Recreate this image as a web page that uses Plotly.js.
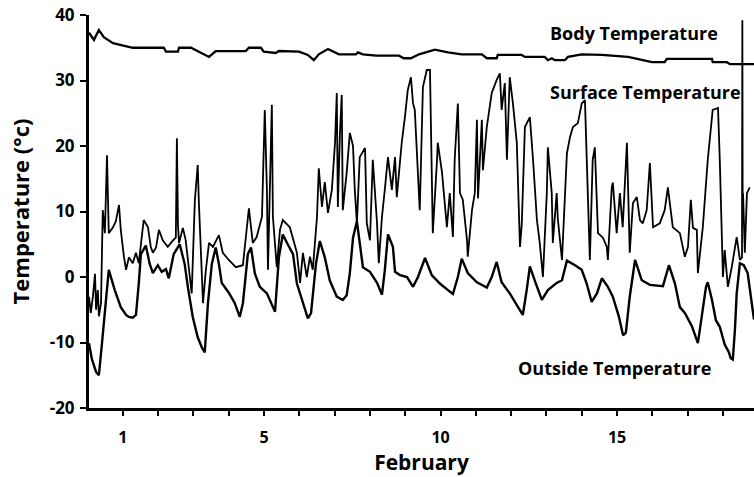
<!DOCTYPE html>
<html>
<head>
<meta charset="utf-8">
<script src="https://cdn.plot.ly/plotly-3.0.1.min.js"></script>
<style>html,body{margin:0;padding:0;background:#fff;}#chart{width:754px;height:477px;}</style>
</head>
<body>
<div id="chart"></div>
<script>
// Day of February (fractional)
const bodyDays = [0.04,0.18,0.32,0.46,0.72,1.17,1.28,2.16,2.22,2.56,2.59,2.93,3.15,3.44,3.63,4.48,4.57,4.91,4.99,5.33,5.42,5.99,6.24,6.41,6.55,6.81,7.12,7.60,7.66,7.80,8.17,8.82,8.96,9.16,9.39,9.56,9.84,10.21,10.60,11.17,11.31,11.59,11.62,12.30,12.39,12.95,13.04,13.15,13.24,13.52,13.61,14.00,14.57,15.31,15.70,15.99,16.35,16.41,17.69,17.71,18.11,18.20,18.88];
const bodyTemp = [37.3,36.2,37.7,36.6,35.7,35.1,35.0,35.0,34.4,34.4,35.0,35.0,34.4,33.6,34.5,34.5,35.0,35.0,34.4,34.2,34.5,34.4,33.9,33.1,34.0,34.8,34.0,34.0,34.3,34.0,33.8,33.8,33.4,33.4,34.0,34.3,34.7,34.3,34.0,34.0,33.4,33.4,33.9,33.9,33.6,33.6,33.1,33.4,33.1,33.1,33.6,34.0,33.9,33.6,33.1,32.8,32.8,33.3,33.3,32.8,32.8,32.5,32.5];

const surfDays = [0.04,0.09,0.15,0.21,0.24,0.29,0.32,0.38,0.43,0.49,0.55,0.60,0.72,0.80,0.89,0.94,1.03,1.09,1.17,1.28,1.37,1.45,1.59,1.71,1.79,1.85,1.94,2.02,2.13,2.27,2.42,2.50,2.53,2.56,2.59,2.70,2.78,2.87,2.95,3.04,3.12,3.15,3.24,3.27,3.35,3.44,3.55,3.72,3.83,4.00,4.20,4.40,4.57,4.68,4.79,4.94,5.02,5.08,5.11,5.22,5.25,5.36,5.45,5.53,5.73,5.93,6.02,6.10,6.21,6.30,6.38,6.50,6.55,6.64,6.72,6.81,6.92,7.01,7.06,7.09,7.15,7.20,7.23,7.34,7.43,7.52,7.57,7.63,7.71,7.86,7.91,8.00,8.08,8.20,8.25,8.34,8.42,8.51,8.62,8.71,8.76,8.90,8.99,9.07,9.16,9.22,9.27,9.41,9.50,9.61,9.70,9.75,9.78,9.90,9.92,10.04,10.18,10.26,10.35,10.40,10.49,10.55,10.63,10.75,10.77,10.89,10.97,11.03,11.06,11.17,11.20,11.31,11.45,11.59,11.68,11.73,11.82,11.88,11.96,12.05,12.16,12.25,12.30,12.39,12.53,12.62,12.73,12.81,12.90,13.01,13.04,13.15,13.18,13.29,13.32,13.44,13.58,13.67,13.75,13.89,14.00,14.09,14.14,14.23,14.31,14.37,14.46,14.60,14.71,14.74,14.85,14.88,14.99,15.08,15.16,15.28,15.36,15.45,15.56,15.65,15.73,15.84,15.93,16.02,16.21,16.35,16.44,16.58,16.78,16.92,17.01,17.09,17.15,17.26,17.29,17.43,17.57,17.71,17.86,17.91,18.00,18.05,18.14,18.25,18.39,18.48,18.54,18.55,18.56,18.57,18.62,18.68,18.76,18.88];
const surfTemp = [-3.0,-5.5,-3.0,0.5,-5.0,-2.0,-6.0,-4.0,10.2,6.7,18.6,6.7,7.6,8.5,11.0,7.2,3.1,1.1,3.0,2.1,3.7,2.1,8.7,7.6,4.6,3.7,4.5,7.2,5.6,4.6,5.6,6.0,21.2,8.0,5.2,7.5,5.6,1.5,-2.5,11.8,17.1,11.8,-2.0,-4.0,1.0,5.2,4.6,6.4,3.7,2.6,1.5,1.8,10.5,5.2,6.1,9.2,25.5,13.3,1.1,26.3,9.2,1.5,7.2,8.7,7.6,3.7,-0.9,3.7,0.0,3.1,1.1,9.2,16.6,10.7,14.5,9.8,13.3,20.5,28.1,10.7,22.0,27.8,10.2,15.9,22.0,20.0,13.3,8.2,18.3,19.7,8.2,5.6,17.9,8.2,2.1,9.2,13.3,18.3,13.3,18.3,12.2,20.5,24.4,28.5,30.5,26.5,25.5,10.2,29.0,31.6,31.6,11.3,6.7,17.9,20.5,16.0,7.6,12.8,6.1,17.9,26.5,12.8,11.8,5.6,3.1,10.2,12.8,24.0,12.0,24.0,16.3,22.9,28.1,30.1,31.1,25.5,29.6,17.9,30.5,26.5,20.5,4.6,8.0,22.9,24.4,17.9,8.7,5.2,0.0,12.8,19.8,12.8,5.2,12.8,9.0,2.6,18.9,21.4,22.9,23.5,26.5,27.0,19.4,2.6,17.9,19.8,6.7,6.0,4.6,2.6,13.7,14.4,6.7,12.8,7.6,20.5,3.7,11.3,12.2,8.7,8.2,10.2,17.4,7.6,8.2,10.2,13.7,7.6,6.7,3.1,4.6,11.8,7.5,7.2,0.6,7.6,17.9,25.5,25.8,18.0,0.0,4.1,-1.5,1.5,6.1,2.6,3.0,39.2,8.0,12.8,3.7,12.8,13.7];

const outDays = [0.04,0.12,0.24,0.32,0.41,0.52,0.60,0.77,0.94,1.09,1.17,1.28,1.37,1.45,1.51,1.65,1.76,1.85,1.99,2.10,2.22,2.30,2.44,2.61,2.75,2.84,2.98,3.12,3.24,3.32,3.41,3.52,3.63,3.72,3.80,4.00,4.17,4.31,4.40,4.54,4.63,4.74,4.88,5.08,5.25,5.31,5.42,5.53,5.67,5.82,5.93,6.10,6.24,6.33,6.47,6.58,6.72,6.86,7.06,7.23,7.34,7.43,7.52,7.63,7.71,7.80,8.00,8.20,8.34,8.42,8.51,8.65,8.71,8.85,9.05,9.22,9.36,9.56,9.75,9.98,10.21,10.35,10.49,10.60,10.77,11.03,11.31,11.45,11.59,11.73,11.96,12.13,12.33,12.44,12.53,12.70,12.87,13.04,13.29,13.44,13.58,13.81,14.00,14.14,14.28,14.43,14.57,14.74,14.88,15.05,15.17,15.25,15.36,15.51,15.70,15.93,16.30,16.47,16.64,16.78,16.92,17.12,17.29,17.40,17.52,17.57,17.69,17.80,17.91,18.05,18.17,18.22,18.28,18.34,18.39,18.48,18.59,18.70,18.79,18.88];
const outTemp = [-10.1,-12.5,-14.5,-15.0,-10.0,-3.0,1.1,-2.0,-4.6,-5.8,-6.1,-6.2,-5.8,-1.0,3.5,4.8,2.0,0.6,1.8,0.8,1.2,-0.2,3.5,5.0,2.0,-1.5,-6.1,-9.2,-10.8,-11.5,-4.0,2.0,4.5,2.0,-0.9,-2.4,-4.0,-6.1,-4.0,3.5,4.5,0.5,-1.5,-2.5,-4.5,-5.3,3.0,6.5,5.0,3.5,-1.0,-4.0,-6.3,-5.5,2.0,5.5,3.0,-0.5,-3.0,-3.5,-2.8,0.6,6.0,8.5,5.0,1.5,0.8,-0.9,-2.7,1.0,6.5,4.6,0.8,0.3,0.0,-1.5,0.0,2.9,0.3,-1.0,-2.0,-2.6,0.0,2.8,0.6,-0.8,-1.6,0.0,2.3,-0.8,-2.5,-4.0,-5.8,-2.0,1.6,-1.0,-3.5,-2.0,-0.9,-0.5,2.5,1.8,1.1,-1.0,-3.8,-2.5,-0.2,-1.5,-3.0,-6.0,-8.9,-8.5,-3.0,2.6,-0.5,-1.2,-1.4,1.8,-1.0,-4.6,-5.5,-7.5,-10.1,-6.0,-1.5,-0.8,-3.5,-6.6,-7.6,-10.3,-11.5,-12.4,-12.6,-8.0,-2.5,2.1,1.8,0.6,-3.0,-6.5];

const xTickVals = [1,2,3,4,5,6,7,8,9,10,11,12,13,14,15,16,17,18];
const xTickText = ['1','','','','5','','','','','10','','','','','15','','',''];
const yTickVals = [-20,-10,0,10,20,30,40];
const yTickText = ['-20','-10','0','10','20','30','40'];

const FONT = 'Open Sans, Noto Sans, sans-serif';

const traces = [
  {x: bodyDays, y: bodyTemp, type: 'scatter', mode: 'lines', name: 'Body Temperature', line: {color: '#000', width: 2.3}},
  {x: surfDays, y: surfTemp, type: 'scatter', mode: 'lines', name: 'Surface Temperature', line: {color: '#000', width: 1.8}},
  {x: outDays, y: outTemp, type: 'scatter', mode: 'lines', name: 'Outside Temperature', line: {color: '#000', width: 2.4}}
];

const annFont = {family: FONT, size: 18, weight: 'bold', color: '#000'};

const layout = {
  width: 754, height: 477,
  margin: {l: 89, r: 0, t: 15, b: 69},
  paper_bgcolor: '#fff', plot_bgcolor: '#fff',
  showlegend: false,
  font: {family: FONT, color: '#000'},
  xaxis: {
    range: [0.04, 18.88], showgrid: false, zeroline: false,
    showline: true, linecolor: '#000', linewidth: 3,
    ticks: 'outside', ticklen: 5, tickwidth: 2, tickcolor: '#000',
    tickvals: xTickVals, ticktext: xTickText, ticklabelstandoff: 8,
    tickfont: {family: FONT, size: 16, weight: 'bold', color: '#000'},
    title: {text: 'February', font: {family: FONT, size: 21, weight: 'bold', color: '#000'}, standoff: 6}
  },
  yaxis: {
    range: [-20, 40], showgrid: false, zeroline: false,
    showline: true, linecolor: '#000', linewidth: 3,
    ticks: 'outside', ticklen: 6, tickwidth: 2, tickcolor: '#000',
    tickvals: yTickVals, ticktext: yTickText, ticklabelstandoff: 2,
    tickfont: {family: FONT, size: 17, weight: 'bold', color: '#000'},
    title: {text: 'Temperature (°c)', font: {family: FONT, size: 22, weight: 'bold', color: '#000'}, standoff: 14}
  },
  annotations: [
    {x: 13.04, y: 37.3, xref: 'x', yref: 'y', xanchor: 'left', yanchor: 'middle', showarrow: false, text: 'Body Temperature', font: annFont},
    {x: 13.04, y: 28.2, xref: 'x', yref: 'y', xanchor: 'left', yanchor: 'middle', showarrow: false, text: 'Surface Temperature', font: annFont},
    {x: 12.13, y: -13.9, xref: 'x', yref: 'y', xanchor: 'left', yanchor: 'middle', showarrow: false, text: 'Outside Temperature', font: annFont}
  ]
};

Plotly.newPlot('chart', traces, layout, {staticPlot: true, displayModeBar: false});
</script>
</body>
</html>
